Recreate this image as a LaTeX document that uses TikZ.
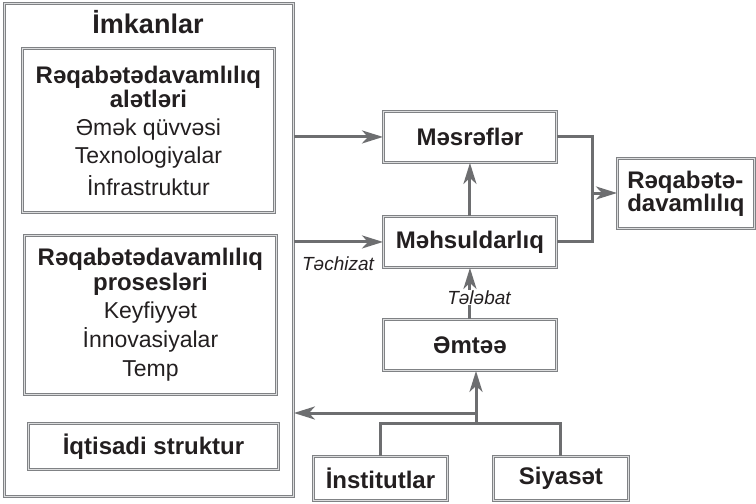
\documentclass[tikz,border=0pt]{standalone}
\usepackage{fontspec}
\setmainfont{Liberation Sans}
\usetikzlibrary{arrows.meta}
\definecolor{ink}{HTML}{231F20}
\definecolor{linegray}{HTML}{6D6E70}
\definecolor{framegray}{HTML}{808285}
\definecolor{framelight}{HTML}{DCDDDE}
\tikzset{
  frame/.style={draw=framegray, line width=0.9pt, double=framelight, double distance=1.1pt,
    text=ink, inner sep=0pt, align=center, anchor=north west},
  boldtxt/.style={font=\bfseries\fontsize{24}{26}\selectfont},
  conn/.style={draw=linegray, line width=3pt},
  arr/.style={conn, -{Stealth[length=21pt,width=13pt,inset=6pt]}},
  lbl/.style={text=ink, font=\itshape\fontsize{19}{21}\selectfont, inner sep=0.5pt}
}
\begin{document}
\begin{tikzpicture}[x=1pt,y=-1pt]
\useasboundingbox (0,0) rectangle (756,504);

% resources block with its three inner groups
\node[frame, minimum width=289pt, minimum height=493pt] (imk) at (4,3) {};
\node[text=ink, font=\bfseries\fontsize{27}{29}\selectfont, anchor=base] (imkt) at (148,33) {İmkanlar};

\node[frame, minimum width=252pt, minimum height=164pt,
      font=\fontsize{23}{28}\selectfont] (tools) at (22,48)
  {{\bfseries\fontsize{24}{25}\selectfont Rəqabətədavamlılıq}\\[-4pt]
   {\bfseries\fontsize{24}{25}\selectfont alətləri}\\
   Əmək qüvvəsi\\ Texnologiyalar\\[4pt] İnfrastruktur};

\node[frame, minimum width=252pt, minimum height=159pt,
      font=\fontsize{23}{29}\selectfont] (proc) at (24,235)
  {{\bfseries\fontsize{24}{25}\selectfont Rəqabətədavamlılıq}\\[-4pt]
   {\bfseries\fontsize{24}{25}\selectfont prosesləri}\\[-1pt]
   Keyfiyyət\\ İnnovasiyalar\\ Temp};

\node[frame, boldtxt, minimum width=250pt, minimum height=46pt] (econ) at (28,423) {İqtisadi struktur};

% central chain
\node[frame, boldtxt, minimum width=173pt, minimum height=51pt] (mesr) at (383,111) {Məsrəflər};
\node[frame, boldtxt, minimum width=173pt, minimum height=51pt] (mehs) at (383,216) {Məhsuldarlıq};
\node[frame, boldtxt, minimum width=173pt, minimum height=51pt] (emt) at (383,319) {Əmtəə};
\node[frame, boldtxt, minimum width=137pt, minimum height=70pt, align=left] (raq) at (617,158)
  {Rəqabətə-\\[-3pt]davamlılıq};

% institutional inputs
\node[frame, boldtxt, minimum width=134pt, minimum height=44pt] (inst) at (313,456) {İnstitutlar};
\node[frame, boldtxt, minimum width=135pt, minimum height=44pt] (siy) at (493,456) {Siyasət};

% junction points
\coordinate (jr) at (592,193);
\coordinate (jb) at (476,423);
\coordinate (jl) at (476,413);

% connectors
\draw[arr] (imk.east |- mesr.west) -- (mesr.west);
\draw[arr] (imk.east |- mehs.west) -- (mehs.west);
\draw[arr] (mehs.north) -- (mesr.south);
\draw[conn] (mesr.east) -| (jr) |- (mehs.east);
\draw[arr] (jr) -- (raq.west |- jr);
\draw[arr] (emt.north) -- (mehs.south);
\draw[conn] (inst.north) |- (jb) -| (siy.north);
\draw[arr] (jb) -- (jb |- emt.south);
\draw[arr] (jl) -- (imk.east |- jl);

% connector labels
\node[lbl, anchor=base] (tech) at (338,270) {Təchizat};
\node[lbl, anchor=base, fill=white] (teleb) at (479,304) {Tələbat};
\end{tikzpicture}
\end{document}
